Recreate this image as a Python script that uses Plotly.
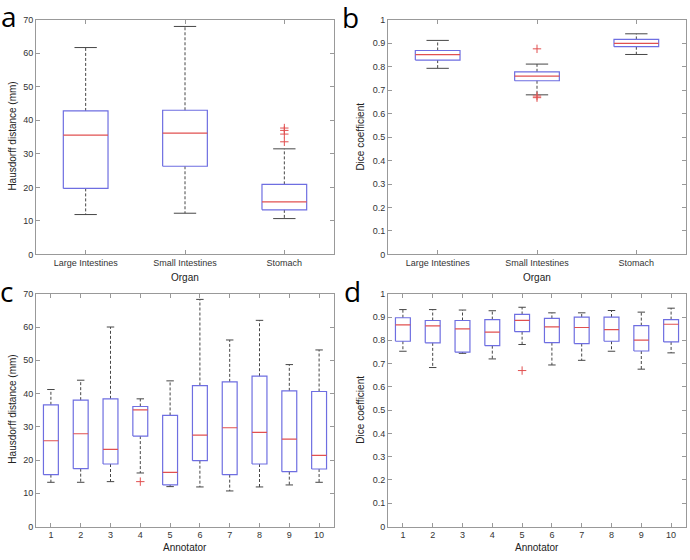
import plotly.graph_objects as go

# ---- data ----
organs = ["Large Intestines", "Small Intestines", "Stomach"]
annotators = [str(i) for i in range(1, 11)]

# a: Hausdorff distance by organ
hd_org_lo = [11.9, 12.3, 10.7]
hd_org_q1 = [19.7, 26.3, 13.3]
hd_org_med = [35.6, 36.2, 15.7]
hd_org_q3 = [42.8, 43.0, 20.9]
hd_org_hi = [61.7, 68.0, 31.5]
hd_org_out = [[], [], [37.7, 37.0, 35.9, 33.6]]

# b: Dice coefficient by organ
dc_org_lo = [0.793, 0.680, 0.852]
dc_org_q1 = [0.828, 0.740, 0.885]
dc_org_med = [0.851, 0.760, 0.899]
dc_org_q3 = [0.869, 0.778, 0.916]
dc_org_hi = [0.912, 0.811, 0.940]
dc_org_out = [[], [0.876, 0.675, 0.668], []]

# c: Hausdorff distance by annotator
hd_ann_lo = [13.3, 13.3, 13.5, 16.1, 12.0, 11.9, 10.7, 11.9, 12.5, 13.3]
hd_ann_q1 = [15.6, 17.4, 18.8, 27.2, 12.5, 19.8, 15.6, 18.8, 16.5, 17.3]
hd_ann_med = [25.8, 27.9, 23.2, 35.1, 16.3, 27.5, 29.7, 28.3, 26.3, 21.4]
hd_ann_q3 = [36.6, 38.0, 38.4, 36.1, 33.4, 42.4, 43.5, 45.2, 40.8, 40.6]
hd_ann_hi = [41.2, 44.0, 60.0, 38.4, 43.8, 68.3, 56.1, 62.0, 48.7, 53.1]
hd_ann_out = [[], [], [], [13.5], [], [], [], [], [], []]

# d: Dice coefficient by annotator
dc_ann_lo = [0.753, 0.683, 0.744, 0.720, 0.782, 0.694, 0.714, 0.753, 0.676, 0.746]
dc_ann_q1 = [0.796, 0.789, 0.749, 0.777, 0.837, 0.790, 0.786, 0.796, 0.754, 0.793]
dc_ann_med = [0.866, 0.862, 0.849, 0.835, 0.886, 0.858, 0.855, 0.846, 0.801, 0.869]
dc_ann_q3 = [0.897, 0.885, 0.885, 0.889, 0.911, 0.894, 0.900, 0.900, 0.863, 0.889]
dc_ann_hi = [0.932, 0.932, 0.930, 0.927, 0.942, 0.918, 0.918, 0.928, 0.921, 0.938]
dc_ann_out = [[], [], [], [], [0.670], [], [], [], [], []]

BLUE = "rgb(110,110,225)"
RED = "rgb(225,80,80)"
WHISK = "rgb(70,70,70)"
FONT = "Liberation Sans, Arial, sans-serif"


def add_boxes(fig, lo, q1, med, q3, hi, out, xa, ya, width):
    """MATLAB style boxplot drawn from precomputed stats."""
    bx, by, mx, my, wx, wy, cx, cy, ox, oy = [], [], [], [], [], [], [], [], [], []
    h = width / 2
    for i in range(len(med)):
        p = i + 1
        bx += [p - h, p + h, p + h, p - h, p - h, None]
        by += [q1[i], q1[i], q3[i], q3[i], q1[i], None]
        mx += [p - h, p + h, None]
        my += [med[i], med[i], None]
        wx += [p, p, None, p, p, None]
        wy += [q3[i], hi[i], None, q1[i], lo[i], None]
        cx += [p - h / 2, p + h / 2, None, p - h / 2, p + h / 2, None]
        cy += [hi[i], hi[i], None, lo[i], lo[i], None]
        for v in out[i]:
            ox.append(p)
            oy.append(v)
    common = dict(xaxis=xa, yaxis=ya, showlegend=False, hoverinfo="skip")
    fig.add_trace(go.Scatter(x=wx, y=wy, mode="lines",
                             line=dict(color=WHISK, width=1, dash="3px,2px"), **common))
    fig.add_trace(go.Scatter(x=cx, y=cy, mode="lines",
                             line=dict(color=WHISK, width=1), **common))
    fig.add_trace(go.Scatter(x=bx, y=by, mode="lines",
                             line=dict(color=BLUE, width=1.2), **common))
    fig.add_trace(go.Scatter(x=mx, y=my, mode="lines",
                             line=dict(color=RED, width=1.2), **common))
    fig.add_trace(go.Scatter(x=ox, y=oy, mode="markers",
                             marker=dict(symbol="cross-thin", size=6,
                                         line=dict(color=RED, width=1)), **common))


fig = go.Figure()
add_boxes(fig, hd_org_lo, hd_org_q1, hd_org_med, hd_org_q3, hd_org_hi, hd_org_out, "x", "y", 0.45)
add_boxes(fig, dc_org_lo, dc_org_q1, dc_org_med, dc_org_q3, dc_org_hi, dc_org_out, "x2", "y2", 0.45)
add_boxes(fig, hd_ann_lo, hd_ann_q1, hd_ann_med, hd_ann_q3, hd_ann_hi, hd_ann_out, "x3", "y3", 0.5)
add_boxes(fig, dc_ann_lo, dc_ann_q1, dc_ann_med, dc_ann_q3, dc_ann_hi, dc_ann_out, "x4", "y4", 0.5)

W, H = 690, 560
left_dom = [36 / W, 334 / W]
right_dom = [388 / W, 686 / W]
top_dom = [(H - 254) / H, (H - 15) / H]
bot_dom = [(H - 531) / H, (H - 294) / H]

axis_style = dict(showgrid=False, zeroline=False, showline=True, linecolor="#999",
                  linewidth=1, mirror="ticks", ticks="inside", ticklen=4,
                  tickcolor="#999", tickfont=dict(family=FONT, size=9, color="#333"))

fig.update_layout(
    width=W, height=H,
    margin=dict(l=0, r=0, t=0, b=0),
    paper_bgcolor="white", plot_bgcolor="white",
    xaxis=dict(domain=left_dom, anchor="y", range=[0.5, 3.5],
               tickvals=[1, 2, 3], ticktext=organs, **axis_style),
    yaxis=dict(domain=top_dom, anchor="x", range=[0, 70], dtick=10, **axis_style),
    xaxis2=dict(domain=right_dom, anchor="y2", range=[0.5, 3.5],
                tickvals=[1, 2, 3], ticktext=organs, **axis_style),
    yaxis2=dict(domain=top_dom, anchor="x2", range=[0, 1], dtick=0.1, **axis_style),
    xaxis3=dict(domain=left_dom, anchor="y3", range=[0.5, 10.5],
                tickvals=list(range(1, 11)), ticktext=annotators, **axis_style),
    yaxis3=dict(domain=bot_dom, anchor="x3", range=[0, 70], dtick=10, **axis_style),
    xaxis4=dict(domain=right_dom, anchor="y4", range=[0.5, 10.5],
                tickvals=list(range(1, 11)), ticktext=annotators, **axis_style),
    yaxis4=dict(domain=bot_dom, anchor="x4", range=[0, 1], dtick=0.1, **axis_style),
)

# axis titles and panel letters, placed in pixels on the page
def px(x, y):
    return x / W, 1 - y / H

title_font = dict(family=FONT, size=10, color="#222")
texts = [
    ("Organ", 185, 277, 0),
    ("Organ", 537, 277, 0),
    ("Annotator", 185, 552, 0),
    ("Annotator", 537, 552, 0),
    ("Hausdorff distance (mm)", 13, 134, -90),
    ("Dice coefficient", 361, 134, -90),
    ("Hausdorff distance (mm)", 13, 412, -90),
    ("Dice coefficient", 361, 412, -90),
]
for t, x, y, ang in texts:
    ax, ay = px(x, y)
    fig.add_annotation(text=t, x=ax, y=ay, xref="paper", yref="paper",
                       showarrow=False, textangle=ang, font=title_font,
                       xanchor="center", yanchor="middle")

letters = [("a", 9, 11), ("b", 351, 12), ("c", 6, 291), ("d", 352, 291)]
for t, x, y in letters:
    ax, ay = px(x, y)
    fig.add_annotation(text=t, x=ax, y=ay, xref="paper", yref="paper",
                       showarrow=False, font=dict(family="Open Sans, sans-serif", size=28, color="black"),
                       xanchor="center", yanchor="middle")

# drop the browser's default body margin so the figure sits at the page corner
fig.write_html("out.html", config={"displayModeBar": False},
               post_script="document.body.style.margin='0';")
